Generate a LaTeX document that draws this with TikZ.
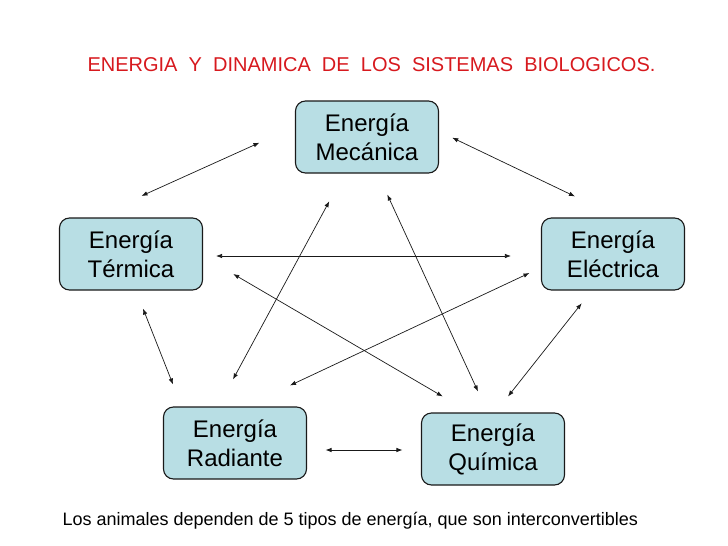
\documentclass[tikz,border=0pt]{standalone}
\usepackage{fontspec}
\setmainfont{Liberation Sans}
\usetikzlibrary{arrows.meta, positioning}
\definecolor{boxfill}{RGB}{184, 222, 228}
\definecolor{titlered}{RGB}{215, 25, 30}
\definecolor{inkblack}{RGB}{25, 25, 25}

\begin{document}
\begin{tikzpicture}[
            x=1pt, y=1pt,
            ebox/.style={draw=inkblack, line width=1.1pt, fill=boxfill, rounded corners=10pt, minimum width=143pt, minimum height=72pt, align=center, inner sep=0pt, font=\fontsize{24}{29}\selectfont},
            conn/.style={{Latex[length=6pt,width=4.5pt]}-{Latex[length=6pt,width=4.5pt]}, line width=0.7pt, inkblack}
        ]
            \useasboundingbox (0,0) rectangle (728,-546);

            \node[anchor=base west, text=titlered, font=\fontsize{20}{24}\selectfont] (title) at (84,-71) {ENERGIA\ \ Y\ \ DINAMICA\ \ DE\ \ LOS\ \ SISTEMAS\ \ BIOLOGICOS.};

            \node[ebox] (mecanica) at (367,-137) {Energía\\Mecánica};
            \node[ebox] (termica) at (131,-254) {Energía\\Térmica};
            \node[ebox] (electrica) at (613,-254) {Energía\\Eléctrica};
            \node[ebox] (radiante) at (235,-443) {Energía\\Radiante};
            \node[ebox] (quimica) at (493,-449) {Energía\\Química};

            % outer ring
            \draw[conn] ([shift={(10.5,21.5)}]termica.north) -- ([shift={(-35.5,-5.7)}]mecanica.west);
            \draw[conn] ([shift={(13.2,-0.7)}]mecanica.east) -- ([shift={(-38,21)}]electrica.north);
            \draw[conn] ([shift={(12,-18)}]termica.south) -- ([shift={(-62,22)}]radiante.north);
            \draw[conn] ([shift={(-31.3,-12.7)}]electrica.south) -- ([shift={(15,16)}]quimica.north);
            \draw[conn] ([shift={(18.5,-7)}]radiante.east) -- ([shift={(-18.5,-1)}]quimica.west);

            % inner star
            \draw[conn] ([shift={(13,-2)}]termica.east) -- ([shift={(-30,-2)}]electrica.west);
            \draw[conn] ([shift={(-2,27)}]radiante.north) -- ([shift={(-37.7,-27.7)}]mecanica.south);
            \draw[conn] ([shift={(20.3,-21)}]mecanica.south) -- ([shift={(-15,21)}]quimica.north);
            \draw[conn] ([shift={(30.2,-20)}]termica.east) -- ([shift={(-50.3,16)}]quimica.north);
            \draw[conn] ([shift={(-11.5,-19)}]electrica.west) -- ([shift={(55,21)}]radiante.north);

            \node[anchor=base west, font=\fontsize{18}{22}\selectfont] (caption) at (59,-525) {Los animales dependen de 5 tipos de energía, que son interconvertibles};
        \end{tikzpicture}
\end{document}
